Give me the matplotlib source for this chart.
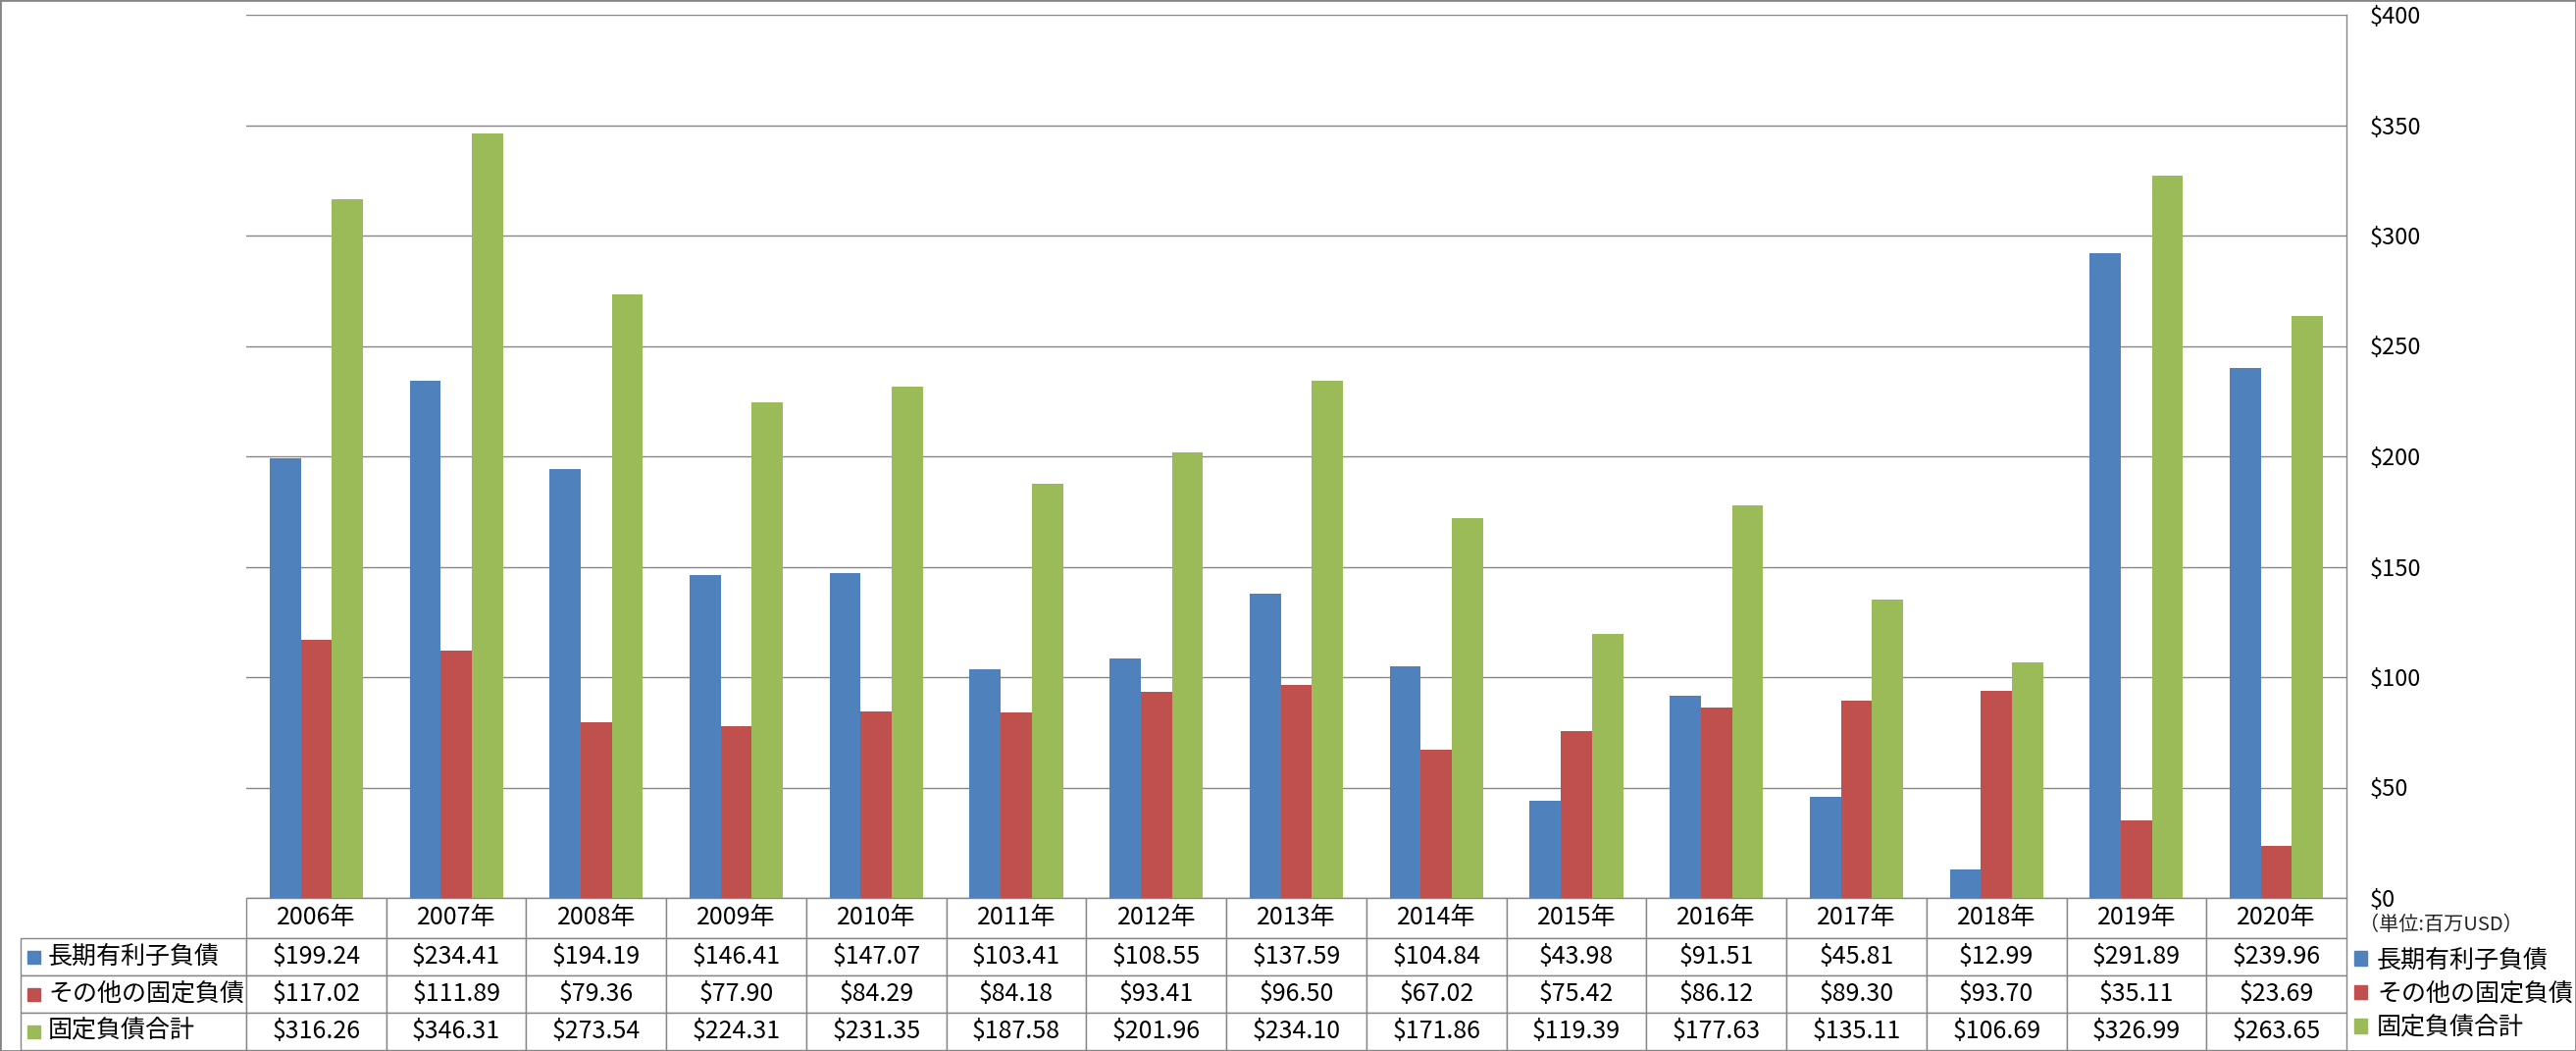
import numpy as np
import matplotlib
matplotlib.use('Agg')
import matplotlib.pyplot as plt
from matplotlib.patches import Rectangle, Patch

plt.rcParams['font.family'] = ['Noto Sans CJK JP', 'DejaVu Sans']

years = ['2006年', '2007年', '2008年', '2009年', '2010年', '2011年', '2012年', '2013年',
         '2014年', '2015年', '2016年', '2017年', '2018年', '2019年', '2020年']
series_names = ['長期有利子負債', 'その他の固定負債', '固定負債合計']
long_debt = [199.24, 234.41, 194.19, 146.41, 147.07, 103.41, 108.55, 137.59,
             104.84, 43.98, 91.51, 45.81, 12.99, 291.89, 239.96]
other_debt = [117.02, 111.89, 79.36, 77.90, 84.29, 84.18, 93.41, 96.50,
              67.02, 75.42, 86.12, 89.30, 93.70, 35.11, 23.69]
total_debt = [316.26, 346.31, 273.54, 224.31, 231.35, 187.58, 201.96, 234.10,
              171.86, 119.39, 177.63, 135.11, 106.69, 326.99, 263.65]
colors = ['#4F81BD', '#C0504D', '#9BBB59']
grid_gray = '#868686'

W, H = 2626, 1071
fig = plt.figure(figsize=(W / 100, H / 100), dpi=100)
# plot area in pixels
px_l, px_r, px_t, px_b = 251, 2392, 15, 915
ax = fig.add_axes([px_l / W, 1 - px_b / H, (px_r - px_l) / W, (px_b - px_t) / H])

x = np.arange(len(years))
bw = 1 / 4.5
for i, vals in enumerate([long_debt, other_debt, total_debt]):
    ax.bar(x + (i - 1) * bw, vals, width=bw, color=colors[i], label=series_names[i], zorder=3)

ax.set_xlim(-0.5, len(years) - 0.5)
ax.set_ylim(0, 400)
ax.set_yticks(np.arange(0, 401, 50))
ax.set_yticklabels(['$%d' % v for v in np.arange(0, 401, 50)])
ax.yaxis.tick_right()
ax.tick_params(axis='y', length=0, pad=17, labelsize=17)
ax.set_xticks([])
ax.grid(axis='y', color=grid_gray, lw=1.0)
ax.set_axisbelow(True)
for s in ['top', 'left', 'bottom']:
    ax.spines[s].set_visible(False)
ax.spines['right'].set_color(grid_gray)
ax.spines['right'].set_linewidth(1.0)

# data table below the plot (sizes in axes fractions)
ax_w, ax_h = px_r - px_l, px_b - px_t
tbl_left, tbl_bottom = 21, 1069
head_h, row_h = 41 / ax_h, 38 / ax_h
label_w = (px_l - tbl_left) / ax_w
cat_w = 1 / len(years)
cell_text = [['$%.2f' % v for v in vals] for vals in [long_debt, other_debt, total_debt]]
tbl = ax.table(cellText=cell_text, rowLabels=series_names, colLabels=years,
               colWidths=[cat_w] * len(years),
               cellLoc='center', rowLoc='left',
               bbox=[0, -(head_h + 3 * row_h), 1, head_h + 3 * row_h])
tbl._autoColumns = []
tbl.auto_set_font_size(False)
tbl.set_fontsize(18)
tbl.set_clip_on(False)
for (r, c), cell in tbl.get_celld().items():
    cell.set_edgecolor(grid_gray)
    cell.set_linewidth(1.0)
    cell.set_height(head_h if r == 0 else row_h)
    cell.set_clip_on(False)
    if c == -1:
        cell.set_width(label_w)
        cell.PAD = 28 / (px_l - tbl_left)

# colour keys in the row labels
sq = 13
for i in range(3):
    yc = px_b + 41 + 38 * (i + 0.5)
    ax.add_patch(Rectangle(((28 - px_l) / ax_w, -(yc + sq / 2 - px_b) / ax_h), sq / ax_w, sq / ax_h,
                           transform=ax.transAxes, color=colors[i], clip_on=False))

ax.text((2405 - px_l) / ax_w, -(943 - px_b) / ax_h, '（単位:百万USD）', transform=ax.transAxes,
        fontsize=14.5, va='center', ha='left', color='#222222')

handles = [Patch(color=c) for c in colors]
ax.legend(handles, series_names, loc='center left', frameon=False, fontsize=18,
          bbox_to_anchor=((2400 - px_l) / ax_w, -(1013 - px_b) / ax_h),
          handlelength=0.52, handleheight=0.52, handletextpad=0.4,
          labelspacing=0.34, borderpad=0, borderaxespad=0)

fig.patches.append(Rectangle((0, 0), 1, 1, transform=fig.transFigure, fill=False,
                             ec=grid_gray, lw=2))
fig.savefig('out.png', dpi=100, facecolor='white')
